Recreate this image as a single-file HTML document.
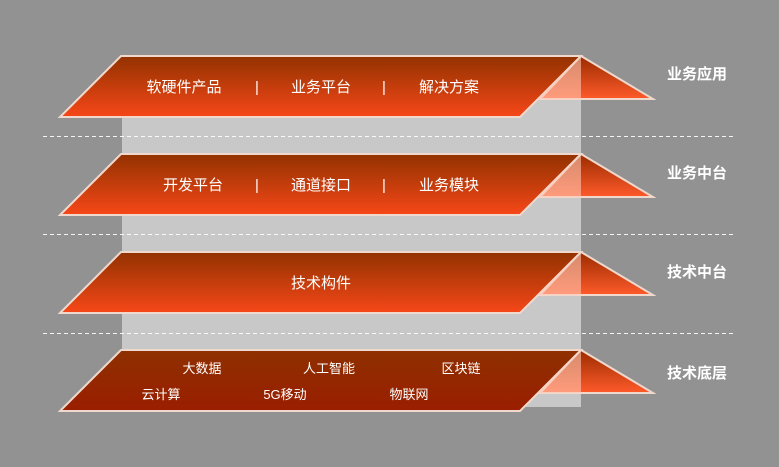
<!DOCTYPE html>
<html><head><meta charset="utf-8"><style>
html,body{margin:0;padding:0;background:#929292;}
svg{display:block;}
text{font-family:"Liberation Sans","Noto Sans CJK SC",sans-serif;fill:#fff;}
</style></head><body>
<svg width="779" height="467" viewBox="0 0 779 467">
<defs>
<linearGradient id="g" x1="0" y1="0" x2="0" y2="1"><stop offset="0" stop-color="#923200"/><stop offset="1" stop-color="#f74718"/></linearGradient>
<linearGradient id="gd" x1="0" y1="0" x2="0" y2="1"><stop offset="0" stop-color="#8e3000"/><stop offset="1" stop-color="#9a1e00"/></linearGradient>
<linearGradient id="t" x1="0" y1="0" x2="0" y2="1"><stop offset="0" stop-color="#9a2c00"/><stop offset="1" stop-color="#ff5a2a"/></linearGradient>
</defs>
<rect width="779" height="467" fill="#929292"/>
<rect x="122" y="100" width="459" height="307" fill="#c8c8c8"/>
<g stroke="#fff" stroke-dasharray="4,3" stroke-width="1" opacity="0.9">
<line x1="43" y1="136.5" x2="735" y2="136.5"/>
<line x1="43" y1="234.5" x2="735" y2="234.5"/>
<line x1="43" y1="333.5" x2="735" y2="333.5"/>
</g>
<g id="L">
</g>
<!-- layer 1 -->
<g>
<polygon points="581,56 653,99 540,99" fill="url(#t)" stroke="#f0d8cc" stroke-width="2"/>
<polygon points="121,56 581,56 520,117 60,117" fill="url(#g)" stroke="#f0d8cc" stroke-width="2"/>
<polygon points="581,57 581,99 538,99" fill="#ffc8b4" opacity="0.6"/>
</g>
<g>
<polygon points="581,154 653,197 540,197" fill="url(#t)" stroke="#f0d8cc" stroke-width="2"/>
<polygon points="121,154 581,154 520,215 60,215" fill="url(#g)" stroke="#f0d8cc" stroke-width="2"/>
<polygon points="581,155 581,197 538,197" fill="#ffc8b4" opacity="0.6"/>
</g>
<g>
<polygon points="581,252 653,295 540,295" fill="url(#t)" stroke="#f0d8cc" stroke-width="2"/>
<polygon points="121,252 581,252 520,313 60,313" fill="url(#g)" stroke="#f0d8cc" stroke-width="2"/>
<polygon points="581,253 581,295 538,295" fill="#ffc8b4" opacity="0.6"/>
</g>
<g>
<polygon points="581,350 653,393 540,393" fill="url(#t)" stroke="#f0d8cc" stroke-width="2"/>
<polygon points="121,350 581,350 520,411 60,411" fill="url(#gd)" stroke="#f0d8cc" stroke-width="2"/>
<polygon points="581,351 581,393 538,393" fill="#ffc8b4" opacity="0.6"/>
</g>
<g font-size="15">
<text x="184" y="92" text-anchor="middle">软硬件产品</text>
<text x="257" y="92" text-anchor="middle">|</text>
<text x="321" y="92" text-anchor="middle">业务平台</text>
<text x="384" y="92" text-anchor="middle">|</text>
<text x="449" y="92" text-anchor="middle">解决方案</text>
<text x="193" y="190" text-anchor="middle">开发平台</text>
<text x="257" y="190" text-anchor="middle">|</text>
<text x="321" y="190" text-anchor="middle">通道接口</text>
<text x="384" y="190" text-anchor="middle">|</text>
<text x="449" y="190" text-anchor="middle">业务模块</text>
<text x="321" y="288" text-anchor="middle">技术构件</text>
</g>
<g font-size="13">
<text x="202" y="373" text-anchor="middle">大数据</text>
<text x="329" y="373" text-anchor="middle">人工智能</text>
<text x="461" y="373" text-anchor="middle">区块链</text>
<text x="161" y="399" text-anchor="middle">云计算</text>
<text x="285" y="399" text-anchor="middle">5G移动</text>
<text x="409" y="399" text-anchor="middle">物联网</text>
</g>
<g font-size="15" font-weight="bold">
<text x="667" y="79">业务应用</text>
<text x="667" y="178">业务中台</text>
<text x="667" y="277">技术中台</text>
<text x="667" y="378">技术底层</text>
</g>
</svg>
</body></html>
